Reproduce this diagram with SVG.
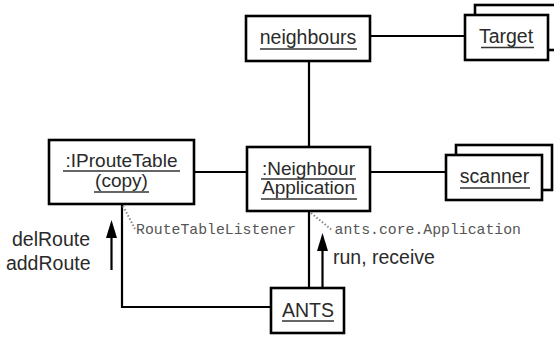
<svg xmlns="http://www.w3.org/2000/svg" width="554" height="337" viewBox="0 0 554 337">
<style>
.box{fill:#fff;stroke:#000;stroke-width:2.6}
.conn{fill:none;stroke:#000;stroke-width:2.2}
.ul{stroke:#333;stroke-width:1.4}
.lbl{font-family:"Liberation Sans",Arial,sans-serif;font-size:19.5px;fill:#2a2a2a;text-anchor:middle}
.lbl2{font-family:"Liberation Sans",Arial,sans-serif;font-size:19px;fill:#2a2a2a;text-anchor:middle}
.note{font-family:"Liberation Sans",Arial,sans-serif;font-size:19.5px;fill:#2a2a2a}
.mono{font-family:"Liberation Mono","Courier New",monospace;font-size:14.8px;fill:#555}
.dot{fill:none;stroke:#888;stroke-width:2;stroke-dasharray:1.5 2}
</style>
<defs>
<marker id="head" viewBox="0 0 18 11" refX="0" refY="5.5" markerWidth="18" markerHeight="11" markerUnits="userSpaceOnUse" orient="auto">
<path d="M0,0 L18,5.5 L0,11 z" fill="#000"/>
</marker>
</defs>
<g id="connectors">
<line class="conn" x1="309" y1="61" x2="309" y2="147"/>
<line class="conn" x1="370" y1="36" x2="465" y2="36"/>
<line class="conn" x1="194" y1="172" x2="247" y2="172"/>
<line class="conn" x1="370" y1="172" x2="446" y2="172"/>
<polyline class="conn" points="122,204 122,307 271,307"/>
<line class="conn" x1="309" y1="288" x2="309" y2="211"/>
<line class="dot" x1="123" y1="206" x2="135" y2="229"/>
<line class="dot" x1="311" y1="213" x2="332" y2="230"/>
<line class="conn" x1="111.5" y1="270" x2="111.5" y2="238" stroke-width="2.6" marker-end="url(#head)"/>
<line class="conn" x1="322.5" y1="292" x2="322.5" y2="251" stroke-width="2.6" marker-end="url(#head)"/>
<text class="mono" x="136" y="234">RouteTableListener</text>
<text class="mono" x="334.5" y="234">ants.core.Application</text>
<text class="note" x="90" y="246" text-anchor="end">delRoute</text>
<text class="note" x="90.5" y="270" text-anchor="end">addRoute</text>
<text class="note" x="333" y="264">run, receive</text>
</g>
<g id="neighbours">
<rect class="box" x="246" y="16" width="124" height="45"/>
<text class="lbl" x="308" y="44">neighbours</text>
<line class="ul" x1="260" y1="49" x2="357" y2="49"/>
</g>
<g id="target">
<rect class="box" x="475" y="5" width="85" height="45"/>
<rect class="box" x="465" y="15" width="83" height="45"/>
<text class="lbl" x="506" y="43">Target</text>
<line class="ul" x1="481" y1="47.5" x2="534" y2="47.5"/>
</g>
<g id="iproutetable">
<rect class="box" x="49" y="140" width="145" height="64"/>
<text class="lbl2" x="121.5" y="166.5">:IProuteTable</text>
<line class="ul" x1="63" y1="171" x2="180" y2="171"/>
<text class="lbl2" x="121.5" y="187">(copy)</text>
<line class="ul" x1="94" y1="192" x2="149" y2="192"/>
</g>
<g id="neighbourapplication">
<rect class="box" x="247" y="147" width="123" height="64"/>
<text class="lbl2" x="308.5" y="174.5">:Neighbour</text>
<line class="ul" x1="261" y1="179" x2="356" y2="179"/>
<text class="lbl2" x="308.5" y="194">Application</text>
<line class="ul" x1="261" y1="199" x2="357" y2="199"/>
</g>
<g id="scanner">
<rect class="box" x="456" y="145" width="96" height="45"/>
<rect class="box" x="446" y="155" width="96" height="45"/>
<text class="lbl" x="494.5" y="183">scanner</text>
<line class="ul" x1="460" y1="188" x2="530" y2="188"/>
</g>
<g id="ants">
<rect class="box" x="271" y="288" width="73" height="45"/>
<text class="lbl" x="308" y="317">ANTS</text>
<line class="ul" x1="282" y1="321" x2="334" y2="321"/>
</g>
</svg>
